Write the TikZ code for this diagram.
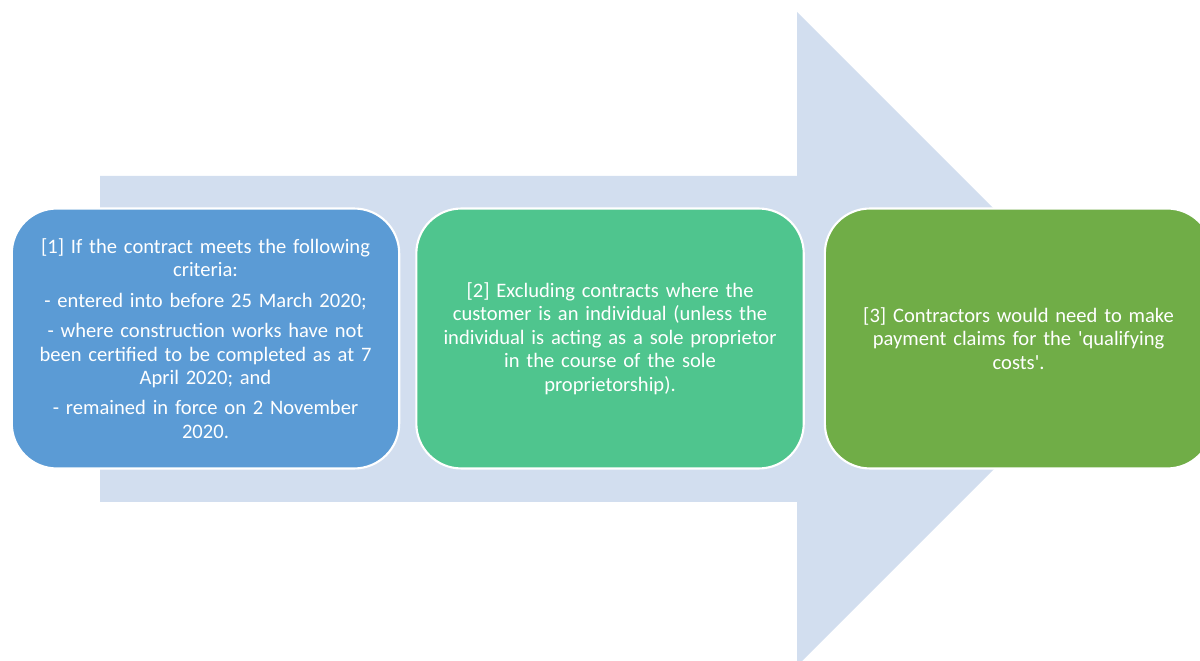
\documentclass[tikz,border=0pt]{standalone}
\usepackage{fontspec}
\setmainfont{Carlito}
\usetikzlibrary{positioning}
\definecolor{arrowblue}{HTML}{D2DEEF}
\definecolor{boxblue}{HTML}{5B9BD5}
\definecolor{boxteal}{HTML}{4FC58E}
\definecolor{boxgreen}{HTML}{70AD47}

\begin{document}
\begin{tikzpicture}[x=0.02cm, y=-0.02cm,
        stepbox/.style={draw=white, line width=1.2pt, rounded corners=0.9cm,
            minimum width=7.75cm, minimum height=5.2cm, text width=7.3cm,
            align=center, text=white, inner sep=0pt,
            font=\fontsize{11.7}{13.3}\selectfont}]
        % Page frame (the third box runs off the right edge)
        \useasboundingbox (0,0) rectangle (1200,661);
        \clip (0,0) rectangle (1200,661);

        % Draw the big background arrow
        \fill[arrowblue] (100,176) -- (797,176) -- (797,12) -- (1124,339)
            -- (797,666) -- (797,502) -- (100,502) -- cycle;

        % Three steps placed along the arrow
        \node[stepbox, fill=boxblue] (crit) at (205.5,338.5)
            {[1] If the contract meets the following\\ criteria:\\[4pt]
             - entered into before 25 March 2020;\\[4pt]
             - where construction works have not\\ been certified to be completed as at 7\\ April 2020; and\\[4pt]
             - remained in force on 2 November\\ 2020.};
        \node[stepbox, fill=boxteal, right=0.3cm of crit] (excl)
            {[2] Excluding contracts where the\\ customer is an individual (unless the\\ individual is acting as a sole proprietor\\ in the course of the sole\\ proprietorship).};
        \node[stepbox, fill=boxgreen, right=0.38cm of excl] (claim)
            {[3] Contractors would need to make\\ payment claims for the \textquotesingle qualifying\\ costs\textquotesingle.};
    \end{tikzpicture}
\end{document}
